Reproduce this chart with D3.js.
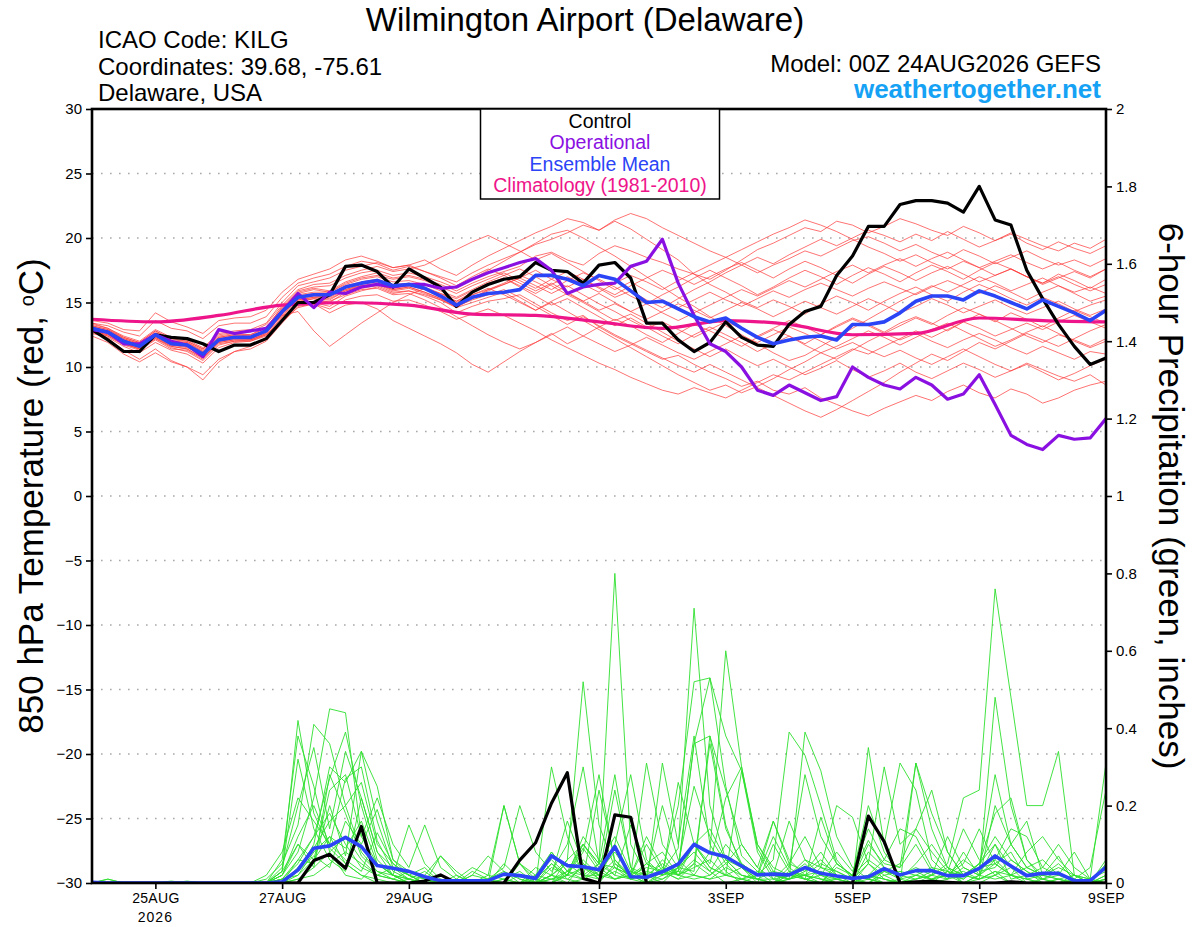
<!DOCTYPE html>
<html>
<head>
<meta charset="utf-8">
<script src="https://cdn.jsdelivr.net/npm/d3@7"></script>
<style>
	body { margin: 0; background: #fff; }
	svg { display: block; font-family: 'Liberation Sans', Arial, Helvetica, sans-serif; }
</style>
</head>
<body>
<svg id="chart" width="1200" height="927"></svg>
<script>

// model run: GEFS 00Z 24AUG2026, 6-hourly steps out to 384h
var runStart = '2026-08-24T00';
var runEnd = '2026-09-09T00';
var stepHours = 6;

var dateTicks = ['2026-08-25T00', '2026-08-27T00', '2026-08-29T00', '2026-09-01T00', '2026-09-03T00', '2026-09-05T00', '2026-09-07T00', '2026-09-09T00'];
var dateTickLabels = ['25AUG', '27AUG', '29AUG', '1SEP', '3SEP', '5SEP', '7SEP', '9SEP'];
var yearLabel = '2026';

var tempTicks = [30, 25, 20, 15, 10, 5, 0, -5, -10, -15, -20, -25, -30];
var precipTicks = [2, 1.8, 1.6, 1.4, 1.2, 1, 0.8, 0.6, 0.4, 0.2, 0];
var precipTickLabels = ['2', '1.8', '1.6', '1.4', '1.2', '1', '0.8', '0.6', '0.4', '0.2', '0'];

// 850 hPa temperature (C)
var controlTemp = [
	12.9,12.1,11.2,11.2,12.5,12.3,12.2,11.8,11.2,11.7,11.7,12.2,13.6,
	15.0,15.0,15.6,17.8,17.9,17.4,16.2,17.6,16.9,16.2,14.7,15.8,16.4,
	16.8,17.0,18.1,17.5,17.4,16.5,17.9,18.1,16.9,13.4,13.4,12.1,11.2,
	11.9,13.5,12.3,11.7,11.6,13.3,14.3,14.7,17.1,18.6,20.9,20.9,22.6,
	22.9,22.9,22.7,22.0,24.0,21.4,21.0,17.5,15.3,13.3,11.6,10.2,10.7
];
var operationalTemp = [
	12.9,12.7,11.8,11.8,12.5,12.0,11.7,10.8,12.9,12.6,12.8,13.0,14.3,
	15.7,14.6,15.8,15.7,16.2,16.4,16.2,16.4,16.4,16.1,16.2,16.8,17.3,
	17.7,18.1,18.4,17.5,15.7,16.2,16.4,16.5,17.8,18.2,19.9,16.5,14.0,
	11.8,11.2,10.0,8.2,7.8,8.6,8.0,7.4,7.7,10.0,9.2,8.6,8.3,
	9.2,8.6,7.5,7.9,9.4,7.1,4.7,4.0,3.6,4.7,4.4,4.5,6.0
];
var meanTemp = [
	13.0,12.7,12.0,11.6,12.5,11.8,11.7,11.0,12.1,12.3,12.3,12.8,14.3,
	15.4,15.6,15.6,16.2,16.5,16.7,16.3,16.4,16.1,15.5,14.8,15.4,15.7,
	15.8,16.0,17.1,17.1,16.8,16.3,17.1,16.8,15.9,15.0,15.1,14.5,13.9,
	13.5,13.8,13.0,12.3,11.8,12.1,12.3,12.4,12.1,13.3,13.3,13.5,14.2,
	15.1,15.5,15.5,15.2,15.9,15.5,15.0,14.5,15.2,14.7,14.2,13.6,14.4
];
// daily climatology (1981-2010), one value per day
var climatologyTemp = [13.7, 13.5, 14.0, 14.8, 15.0, 14.8, 14.1, 14.0, 13.5, 13.0, 13.6, 13.3, 12.5, 12.6, 13.8, 13.6, 13.5];

var memberTemps = [
	[13.2,12.9,12.3,11.9,12.8,12.1,12.0,11.4,12.4,12.6,12.5,13.1,14.6,
	 15.8,16.1,15.9,16.6,17.0,17.3,16.9,17.1,16.8,16.4,15.9,16.5,17.0,
	 17.4,17.8,18.6,18.9,18.3,17.9,18.8,19.4,19.0,18.5,18.1,17.6,17.2,
	 16.8,17.5,18.3,19.1,19.6,20.2,20.8,20.5,21.3,21.0,20.4,20.9,21.5,
	 21.1,20.6,20.2,20.9,20.4,19.8,20.3,19.6,19.1,19.7,19.2,18.8,19.4],
	[12.6,12.3,11.6,11.1,11.9,11.3,11.0,10.3,11.5,11.9,12.0,12.4,13.9,
	 15.0,15.3,15.0,15.8,16.1,16.3,15.8,15.9,15.5,15.0,14.2,14.7,15.1,
	 15.3,15.6,14.9,14.2,13.6,14.0,13.1,12.4,11.8,11.2,10.6,10.9,10.2,
	 9.6,9.1,8.5,8.9,8.2,7.9,8.4,7.6,7.1,6.6,6.2,6.8,7.3,
	 7.8,7.4,8.1,8.6,8.0,7.6,8.3,7.9,7.2,7.6,8.2,8.6,8.9],
	[13.4,13.0,12.4,12.0,12.9,12.3,12.1,11.5,12.6,12.8,12.9,13.4,15.0,
	 16.3,16.6,16.9,17.5,17.8,18.1,17.7,17.9,18.3,17.6,17.1,17.9,18.6,
	 19.2,19.8,20.4,20.9,21.5,21.2,20.6,21.3,20.7,19.9,19.1,18.3,17.2,
	 16.4,15.8,15.1,14.6,15.2,14.7,14.1,14.9,15.5,15.0,14.4,15.1,15.7,
	 16.2,15.6,15.1,15.8,16.4,15.9,15.3,14.8,15.4,14.9,14.3,14.8,15.2],
	[12.9,12.6,11.8,11.4,12.2,11.5,11.2,10.5,11.7,12.0,12.1,12.5,13.6,
	 14.6,14.9,14.2,14.8,15.0,14.5,13.6,13.0,12.4,11.8,11.1,10.2,9.6,
	 10.4,11.2,11.9,12.6,11.8,12.4,13.1,13.7,13.2,12.5,11.9,12.6,13.3,
	 12.8,12.2,11.6,12.3,12.9,12.4,11.8,12.5,13.2,13.8,13.3,12.7,13.4,
	 13.9,13.4,12.8,13.5,14.1,13.6,13.0,12.4,11.9,12.5,12.1,11.6,12.2],
	[12.7,12.2,11.3,10.6,11.4,10.5,10.0,9.0,10.4,11.2,11.6,12.1,13.5,
	 14.8,15.0,14.7,15.5,15.9,16.2,15.7,15.9,15.6,15.2,14.6,15.3,16.0,
	 16.5,17.1,16.6,16.0,16.7,17.3,16.8,16.2,15.5,14.9,15.6,16.2,16.9,
	 17.5,16.9,16.3,15.6,16.2,16.9,17.5,17.0,16.4,17.1,17.7,17.2,16.6,
	 17.3,17.9,17.4,16.8,17.5,18.1,17.6,17.0,16.5,17.2,16.7,16.1,16.8],
	[13.1,12.8,12.1,11.7,12.6,11.9,11.8,11.2,12.3,12.5,12.4,12.9,14.0,
	 14.3,12.8,11.6,12.5,13.4,14.2,15.0,15.6,16.1,15.7,15.3,15.9,16.5,
	 16.9,16.2,15.5,14.8,15.3,14.6,13.9,13.2,13.8,13.1,12.4,11.8,12.5,
	 13.1,12.5,11.9,11.2,11.8,12.4,11.7,11.1,11.6,12.2,12.8,12.3,11.7,
	 12.3,12.9,13.4,12.8,12.2,11.6,12.1,12.7,13.2,12.6,12.0,11.5,12.0],
	[13.4,13.2,12.7,12.4,13.6,13.0,12.8,12.2,13.2,13.4,13.4,13.9,15.4,
	 16.5,16.9,17.2,17.8,18.2,18.0,17.5,17.8,17.4,17.0,16.6,17.3,17.9,
	 18.4,18.9,19.5,19.9,20.4,21.0,20.6,21.4,21.9,21.5,20.8,20.2,19.6,
	 19.0,18.5,17.9,17.3,17.9,18.4,19.0,18.6,19.2,19.8,20.1,19.6,19.0,
	 19.5,18.9,18.4,19.1,18.6,18.0,18.5,19.0,18.4,17.9,18.3,17.8,18.4],
	[12.8,12.5,11.9,11.5,12.3,11.7,11.5,10.9,12.0,12.2,12.2,12.7,14.2,
	 15.2,15.4,15.5,16.0,16.3,16.5,16.0,16.2,15.8,15.3,14.6,15.0,15.4,
	 15.8,15.1,14.4,15.0,14.3,13.6,12.9,12.2,11.5,10.8,10.1,9.4,8.8,
	 8.2,8.6,8.0,8.5,9.1,9.8,10.4,11.1,10.6,11.3,12.0,12.6,13.2,
	 13.8,13.3,14.0,14.6,14.1,13.5,14.2,13.7,13.1,13.8,14.4,13.9,13.4],
	[13.0,12.7,12.0,11.6,12.5,11.8,11.6,11.1,12.1,12.3,12.3,12.8,14.4,
	 15.5,15.7,15.6,16.3,16.6,16.8,16.4,16.5,16.2,15.7,15.1,15.6,16.0,
	 16.4,16.9,17.5,16.8,16.2,16.8,16.1,15.4,15.9,15.2,14.6,15.3,16.0,
	 16.6,17.3,17.9,18.5,18.0,18.7,19.3,19.9,19.4,20.0,20.6,20.2,19.7,
	 20.3,19.8,20.5,19.9,19.3,19.8,20.4,19.9,19.4,19.0,19.6,19.2,19.9],
	[13.1,12.7,12.1,11.7,12.6,11.9,11.8,11.0,12.2,12.4,12.3,12.9,14.3,
	 15.6,15.8,15.8,16.4,16.8,17.0,16.6,16.7,16.4,15.9,15.4,16.0,16.6,
	 17.1,17.6,17.0,16.3,15.6,15.0,14.3,13.6,14.1,13.4,12.7,12.0,11.4,
	 10.8,11.4,10.7,10.1,10.6,10.0,9.4,9.9,10.5,9.8,9.2,9.7,10.3,
	 9.6,9.1,9.7,10.3,9.8,9.2,9.7,10.2,9.6,9.0,9.5,10.1,10.6],
	[12.9,12.6,11.9,11.5,12.4,11.7,11.6,10.8,12.0,12.2,12.2,12.7,14.1,
	 15.3,15.5,15.4,16.0,16.4,16.6,16.1,16.3,16.0,15.5,15.0,15.6,16.1,
	 15.6,15.0,14.4,15.1,15.7,15.1,14.4,14.9,14.3,13.7,14.3,14.9,14.4,
	 13.8,14.4,15.0,14.5,13.9,14.5,15.1,14.6,14.1,14.7,15.3,14.8,14.2,
	 14.7,15.3,14.8,14.2,14.7,15.2,14.6,14.1,14.6,15.1,14.5,14.0,14.5],
	[13.2,12.9,12.2,11.8,12.7,12.0,11.9,11.3,12.3,12.5,12.5,13.0,14.7,
	 15.9,16.2,16.3,16.9,17.3,17.5,17.1,17.3,17.0,16.6,16.1,16.8,17.5,
	 18.2,18.9,19.6,20.3,20.6,20.0,19.3,18.6,17.8,17.0,16.2,15.4,14.7,
	 13.9,13.2,12.5,11.8,11.1,10.5,10.9,11.6,12.3,13.0,13.7,14.4,15.1,
	 15.7,16.3,15.8,16.4,17.0,16.5,15.9,16.4,16.9,16.3,15.8,16.2,15.7],
	[12.7,12.4,11.7,11.3,12.1,11.4,11.3,10.6,11.8,12.0,12.0,12.5,13.8,
	 14.9,15.1,15.1,15.6,16.0,16.1,15.6,15.7,15.2,14.6,13.9,13.2,12.5,
	 11.9,11.4,11.9,12.5,13.1,12.4,11.8,11.2,11.7,12.3,11.7,11.1,10.6,
	 11.2,11.8,12.4,11.9,12.5,13.1,12.6,12.0,11.4,11.9,11.3,10.8,11.3,
	 10.7,10.2,10.8,11.4,10.8,10.2,9.7,10.3,9.8,9.3,8.9,9.4,8.6],
	[13.0,12.8,12.2,11.8,12.6,12.0,11.9,11.2,12.2,12.4,12.4,12.9,14.5,
	 15.7,16.0,15.8,16.5,16.9,17.1,16.8,17.0,16.7,16.2,15.7,16.3,16.8,
	 17.3,16.7,16.1,16.8,17.4,16.8,16.2,15.6,16.3,16.9,17.5,17.0,16.4,
	 17.0,17.6,18.1,17.5,16.9,17.6,18.2,17.7,17.1,16.5,17.2,17.8,17.3,
	 16.7,17.3,17.8,17.2,16.6,17.1,17.6,17.0,16.4,16.9,17.4,16.9,17.6],
	[12.8,12.4,11.8,11.4,12.2,11.6,11.4,10.7,11.9,12.1,12.1,12.6,14.0,
	 15.1,15.3,15.2,15.9,16.2,16.4,15.9,16.1,15.7,15.2,14.7,15.2,15.6,
	 16.0,15.4,14.7,14.0,13.3,13.9,13.2,12.5,11.9,11.3,10.7,10.1,9.6,
	 10.2,9.6,9.0,8.4,7.8,7.2,6.6,6.1,6.7,7.4,8.1,8.8,9.6,
	 10.3,11.0,10.5,11.2,11.9,11.4,12.0,12.6,12.1,11.6,12.2,12.8,13.3],
	[13.6,13.4,12.9,12.8,14.2,13.5,13.1,12.6,13.6,13.8,13.9,14.4,15.8,
	 16.8,17.2,17.6,18.3,18.6,18.2,17.7,17.9,17.4,16.9,16.3,17.0,17.6,
	 17.1,16.5,15.9,16.5,15.8,15.1,15.7,15.0,14.3,14.9,14.2,13.6,14.2,
	 14.8,15.4,16.0,15.5,16.1,16.7,16.2,16.8,17.4,17.9,17.3,17.9,18.4,
	 17.8,18.4,18.9,18.3,17.7,18.2,18.7,18.1,17.6,18.1,17.5,17.0,17.6],
	[12.8,12.5,11.8,11.4,12.3,11.6,11.4,10.7,11.9,12.1,12.1,12.6,14.1,
	 15.2,15.4,15.3,15.9,16.3,16.4,16.0,16.2,15.8,15.3,14.8,15.4,15.9,
	 16.4,16.9,16.3,15.7,16.3,15.6,14.9,14.3,13.6,13.0,13.5,12.9,12.3,
	 12.9,13.5,13.0,12.4,13.0,13.6,13.1,12.5,13.1,13.7,13.2,12.6,12.1,
	 12.6,12.0,11.5,12.1,12.6,12.1,11.5,11.0,11.6,11.1,10.6,11.2,11.0],
	[13.1,12.8,12.1,11.7,12.5,11.9,11.7,11.0,12.1,12.3,12.3,12.8,14.3,
	 15.4,15.6,15.6,16.2,16.5,16.7,16.3,16.4,16.1,15.6,15.1,15.8,16.4,
	 16.9,16.3,15.7,16.4,17.0,16.4,15.8,16.5,17.1,16.6,16.0,16.7,17.3,
	 17.9,18.5,19.1,19.7,20.3,20.8,21.4,21.0,20.5,19.9,19.3,18.8,18.2,
	 18.7,18.1,17.6,18.2,17.7,17.1,17.6,17.0,16.5,17.0,16.4,15.9,16.4],
	[12.4,11.9,11.0,10.4,11.1,10.4,10.0,9.4,10.6,11.2,11.4,12.0,13.4,
	 14.7,14.9,14.5,15.2,15.5,15.6,15.1,15.2,14.8,14.3,13.7,14.1,14.5,
	 14.0,13.4,12.8,12.1,11.5,10.9,10.3,9.8,9.2,8.7,8.2,7.9,8.4,
	 8.0,7.6,8.2,8.8,9.4,9.0,9.6,10.2,10.8,11.4,11.0,11.6,12.2,
	 12.8,12.3,12.9,13.5,13.0,12.4,12.9,13.4,12.9,13.5,14.0,13.5,13.0],
	[13.3,13.0,12.3,11.9,12.8,12.2,12.0,11.4,12.5,12.7,12.7,13.3,14.8,
	 16.0,16.4,16.5,17.1,17.5,17.8,17.4,17.6,17.9,18.5,19.1,19.7,20.2,
	 19.6,19.0,18.3,18.8,18.1,17.4,16.7,16.0,16.6,15.9,15.2,14.6,15.2,
	 15.8,15.2,14.7,15.3,15.9,15.4,16.0,16.5,16.0,15.5,16.1,16.6,16.1,
	 15.6,16.2,16.7,16.2,15.7,16.3,15.8,15.2,15.8,16.3,15.7,15.1,15.5]
];

// 6-hour precipitation (inches)
var controlPrecip = [
	0,0,0,0,0,0,0,0,0,0,0,0,0,
	0,0.058,0.074,0.038,0.146,0,0,0,0.005,0.021,0,0,0,
	0,0.059,0.104,0.206,0.285,0.012,0,0.176,0.17,0,0,0,0,
	0,0,0,0,0,0,0,0,0,0,0.173,0.107,0,
	0.003,0.004,0.002,0,0,0,0.003,0,0,0,0,0,0
];
var meanPrecip = [
	0.002,0,0,0,0,0,0,0,0,0,0,0,0.003,
	0.034,0.09,0.096,0.118,0.094,0.045,0.038,0.03,0.016,0.006,0.006,0.006,0.006,
	0.023,0.019,0.012,0.07,0.045,0.042,0.034,0.094,0.016,0.015,0.029,0.049,0.1,
	0.078,0.068,0.044,0.021,0.023,0.021,0.04,0.025,0.018,0.012,0.016,0.037,0.021,
	0.032,0.032,0.019,0.019,0.038,0.07,0.044,0.019,0.025,0.025,0.006,0.006,0.041
];
var memberPrecip = [
	[0,0.01,0,0,0,0,0,0,0,0,0,0,0.03,
	 0.42,0.18,0.09,0.05,0.02,0,0,0.01,0.03,0,0,0,0,
	 0,0,0,0.3,0.12,0.02,0.05,0.8,0.1,0.02,0,0.04,0.08,
	 0.03,0,0.01,0,0,0.02,0.05,0.01,0,0,0.02,0,0,
	 0,0.01,0.03,0,0.02,0.1,0.04,0,0,0.01,0,0,0.02],
	[0,0,0,0,0,0,0,0,0,0,0,0.01,0.05,
	 0.15,0.41,0.36,0.2,0.08,0.03,0.01,0,0,0,0.02,0,0,
	 0.01,0.03,0,0,0.06,0.52,0.15,0.04,0.01,0,0.03,0.09,0.71,
	 0.2,0.06,0.02,0.01,0,0.03,0.02,0,0.01,0,0.05,0.02,0,
	 0,0,0.01,0.04,0.02,0.48,0.2,0.06,0.01,0,0,0,0.05],
	[0,0,0,0,0,0,0,0,0,0,0,0,0.02,
	 0.08,0.22,0.45,0.44,0.12,0.05,0.02,0,0,0.01,0,0,0,
	 0,0,0.01,0.05,0.02,0.08,0.28,0.05,0.02,0.31,0.1,0.04,0.36,
	 0.53,0.25,0.07,0.03,0,0.01,0.39,0.29,0.12,0.04,0.01,0,0,
	 0.02,0.01,0,0,0,0.02,0,0,0.01,0,0,0,0],
	[0,0,0,0,0,0.005,0,0,0,0,0,0,0.01,
	 0.05,0.12,0.27,0.39,0.2,0.06,0.02,0.15,0.05,0.01,0,0,0,
	 0.2,0.05,0,0.02,0,0.05,0.02,0.24,0.04,0,0.01,0.03,0.02,
	 0.08,0.6,0.3,0.09,0.02,0.16,0.06,0.02,0,0,0.01,0,0,
	 0.31,0.14,0.04,0,0.02,0.05,0.08,0.01,0,0,0.02,0,0],
	[0,0,0,0,0,0,0,0,0,0,0,0,0.04,
	 0.2,0.35,0.14,0.34,0.22,0.08,0.04,0.01,0,0,0,0.02,0.07,
	 0.03,0,0,0.08,0.03,0.1,0.05,0.02,0.15,0.05,0.02,0.26,0.1,
	 0.04,0.02,0.29,0.08,0.01,0,0,0.04,0.2,0.17,0.05,0.01,0,
	 0,0.02,0.05,0.22,0.24,0.76,0.48,0.2,0.2,0.34,0.02,0,0.02],
	[0,0,0,0,0,0,0,0,0,0,0,0,0,
	 0.03,0.1,0.3,0.26,0.34,0.25,0.06,0.02,0,0,0,0,0.02,
	 0.2,0.05,0.01,0,0.02,0.04,0.01,0.1,0.02,0,0.31,0.1,0.38,
	 0.1,0.03,0,0.02,0.16,0.06,0.02,0.01,0,0,0.35,0.1,0.31,
	 0.24,0.06,0.02,0,0.01,0.03,0,0,0,0,0,0,0],
	[0,0,0,0,0,0,0,0,0,0,0,0.02,0.08,
	 0.22,0.16,0.1,0.27,0.3,0.11,0.03,0.01,0,0,0,0,0,
	 0,0.02,0,0.05,0.01,0,0,0.05,0.02,0.04,0.03,0.02,0.05,
	 0.36,0.14,0.05,0.02,0.06,0.39,0.33,0.2,0.06,0.01,0,0.03,0.05,
	 0.14,0.08,0.03,0.02,0.05,0.12,0.06,0.03,0,0.01,0,0.01,0.31],
	[0,0,0,0,0,0,0,0,0,0,0,0,0.01,
	 0.02,0.06,0.24,0.28,0.12,0.22,0.1,0.04,0.15,0.04,0.01,0,0,
	 0.01,0,0.04,0.02,0.06,0.1,0.04,0.01,0.02,0.05,0.03,0.01,0.02,
	 0.01,0.02,0.04,0,0.1,0.03,0.01,0.17,0.05,0.02,0.11,0.04,0.02,
	 0.03,0.01,0.02,0.05,0.14,0.05,0.02,0.01,0,0,0.01,0.04,0.24],
	[0,0,0,0,0,0,0,0,0,0,0,0,0.03,
	 0.32,0.14,0.06,0.03,0.22,0.08,0.02,0,0,0.07,0.02,0,0,
	 0,0,0.02,0.08,0.03,0.01,0.24,0.06,0.02,0,0.02,0.05,0.25,
	 0.12,0.05,0.01,0,0,0.02,0.06,0.04,0.02,0,0.08,0.04,0.01,
	 0.05,0.1,0.04,0.02,0.01,0.2,0.1,0.04,0.02,0.01,0,0,0],
	[0,0,0,0,0,0,0.005,0,0,0,0,0,0,
	 0.04,0.09,0.16,0.2,0.26,0.1,0.05,0.02,0.01,0,0,0.02,0.01,
	 0.04,0.2,0.08,0.03,0.1,0.3,0.05,0.12,0.03,0.01,0.06,0.02,0.1,
	 0.05,0.22,0.3,0.1,0.04,0.02,0.01,0,0.05,0.02,0.06,0.03,0.01,
	 0,0,0.03,0.01,0.05,0.18,0.22,0.06,0.02,0.07,0,0,0.01],
	[0,0,0,0,0,0,0,0,0,0,0,0,0.02,
	 0.12,0.2,0.1,0.06,0.03,0.13,0.05,0.02,0,0,0,0,0,
	 0,0,0,0.01,0,0.01,0.03,0.08,0.02,0.01,0.03,0.2,0.52,
	 0.53,0.38,0.29,0.1,0.03,0.01,0.02,0.03,0.01,0,0.02,0.01,0,
	 0.01,0.03,0.02,0.01,0.04,0.06,0.02,0,0,0,0,0,0],
	[0,0,0,0,0,0,0,0,0,0,0,0,0.01,
	 0.06,0.05,0.2,0.07,0.34,0.16,0.04,0.02,0.04,0,0,0,0,
	 0,0,0,0.02,0.01,0.04,0.02,0.06,0.01,0.03,0.02,0.04,0.03,
	 0.38,0.24,0.1,0.04,0.16,0.05,0.03,0.08,0.02,0.01,0.05,0.3,0.1,
	 0.14,0.24,0.08,0.02,0.05,0.1,0.01,0.02,0.04,0.1,0.04,0.01,0],
	[0,0,0,0,0,0,0,0,0,0,0,0,0,
	 0.01,0.04,0.08,0.12,0.06,0.02,0.01,0.03,0.01,0,0,0,0,
	 0,0,0,0.02,0.16,0.05,0.01,0.03,0.01,0.05,0.08,0.02,0.01,
	 0.02,0.05,0.1,0.04,0.01,0.02,0.02,0.05,0.03,0.01,0.02,0.06,0.14,
	 0.12,0.04,0.01,0.08,0.02,0.06,0.14,0.12,0.04,0.02,0.01,0,0.01],
	[0,0,0,0,0,0,0,0,0,0,0,0,0.06,
	 0.38,0.25,0.08,0.02,0.01,0.05,0.02,0,0,0,0,0.03,0.01,
	 0,0,0.02,0.06,0.02,0.01,0.05,0.28,0.04,0.02,0.01,0.04,0.1,
	 0.04,0.02,0.01,0.02,0.12,0.04,0.01,0,0.04,0.02,0.2,0.08,0.02,
	 0.04,0.02,0.01,0.02,0.04,0.05,0.02,0.08,0.12,0.06,0.02,0.01,0.04],
	[0,0.01,0,0,0,0,0,0,0,0,0,0,0,
	 0.02,0.08,0.12,0.09,0.16,0.05,0.02,0.01,0,0,0,0,0,
	 0.05,0.01,0,0.01,0.02,0.09,0.03,0.01,0.02,0.12,0.04,0.02,0.06,
	 0.03,0.1,0.05,0.02,0.02,0.01,0.03,0.06,0.02,0.01,0.1,0.05,0.04,
	 0.1,0.03,0.02,0.06,0.03,0.04,0.1,0.16,0.02,0.05,0.01,0,0.06],
	[0,0,0,0,0,0,0,0,0,0,0,0,0.01,
	 0.03,0.07,0.04,0.16,0.1,0.19,0.06,0.03,0.01,0,0.01,0.04,0.02,
	 0.01,0,0,0,0.02,0.12,0.06,0.02,0.01,0.02,0.2,0.06,0.02,
	 0.01,0.04,0.02,0.01,0.01,0.05,0.12,0.04,0.03,0.01,0,0.02,0.03,
	 0.02,0.04,0.03,0.14,0.06,0.02,0.04,0.02,0.01,0.03,0,0,0.01],
	[0,0,0,0,0,0,0,0,0,0,0,0,0,
	 0.06,0.12,0.18,0.1,0.04,0.02,0.04,0.02,0,0,0,0,0,
	 0,0,0,0.02,0.05,0.02,0.02,0.1,0.28,0.06,0.02,0.03,0.36,
	 0.38,0.15,0.04,0.01,0,0.01,0.02,0.01,0.01,0,0.02,0.01,0,
	 0.01,0.02,0.12,0.04,0.02,0.01,0.02,0.04,0.06,0.02,0.01,0,0],
	[0,0,0,0,0,0,0,0,0,0,0,0,0.03,
	 0.1,0.04,0.28,0.18,0.07,0.03,0.02,0.01,0,0,0,0,0.01,
	 0.03,0.01,0,0,0.03,0.02,0.01,0.04,0.02,0.1,0.03,0.01,0.05,
	 0.02,0.06,0.04,0.01,0.03,0.02,0.01,0.02,0.08,0.03,0.14,0.06,0.04,
	 0.31,0.18,0.08,0.02,0.04,0.28,0.1,0.04,0.02,0.01,0.02,0,0],
	[0,0,0,0,0,0,0,0,0,0,0,0,0,
	 0.01,0.02,0.05,0.08,0.05,0.02,0.01,0,0.02,0.07,0.03,0,0,
	 0,0.05,0.02,0.01,0.03,0.06,0.02,0.01,0.03,0.02,0.05,0.02,0.04,
	 0.06,0.02,0.01,0.03,0.02,0.01,0.04,0.02,0.01,0.02,0.01,0.03,0.02,
	 0.01,0.02,0.04,0.02,0.01,0.03,0.02,0.01,0.02,0.04,0.02,0.01,0.03],
	[0,0,0,0,0,0,0,0,0,0,0,0,0.02,
	 0.1,0.06,0.12,0.05,0.02,0.01,0,0,0,0,0,0,0,
	 0,0,0,0.04,0.02,0.1,0.05,0.04,0.02,0.01,0.04,0.03,0.1,
	 0.14,0.06,0.02,0.01,0,0.04,0.28,0.12,0.05,0.02,0.01,0,0.01,
	 0.02,0.01,0.02,0.03,0.01,0.02,0.06,0.03,0.01,0.02,0.08,0.01,0]
];

var legendItems = ['Control', 'Operational', 'Ensemble Mean', 'Climatology (1981-2010)'];

var colors = {
	member: '#ff3a3a',
	precip: '#2ee02e',
	control: '#000000',
	operational: '#8a10e2',
	mean: '#2a44f6',
	climatology: '#ee1489',
	site: '#15a2f4'
};

var padding = {t: 109, r: 94, b: 44, l: 92};
var width = 1200, height = 927;
var plotW = width - padding.l - padding.r;
var plotH = height - padding.t - padding.b;

var parseTime = d3.utcParse('%Y-%m-%dT%H');
var t0 = parseTime(runStart);

function stepTime(i, hours) {
	return new Date(t0.getTime() + i * hours * 3600 * 1000);
}

var svg = d3.select('#chart');

svg.append('rect').attr('width', width).attr('height', height).attr('fill', '#fff');

var xScale = d3.scaleUtc().domain([t0, parseTime(runEnd)]).range([padding.l, padding.l + plotW]);
var tempScale = d3.scaleLinear().domain([-30, 30]).range([padding.t + plotH, padding.t]);
var precipScale = d3.scaleLinear().domain([0, 2]).range([padding.t + plotH, padding.t]);

svg.append('clipPath').attr('id', 'plot-clip')
	.append('rect')
	.attr('x', padding.l).attr('y', padding.t)
	.attr('width', plotW).attr('height', plotH);

// dotted grid on the temperature ticks
svg.append('g').attr('class', 'grid')
	.selectAll('line')
	.data(tempTicks.filter(function(d) { return d > -30 && d < 30; }))
	.enter()
	.append('line')
	.attr('x1', padding.l).attr('x2', padding.l + plotW)
	.attr('y1', function(d) { return tempScale(d); })
	.attr('y2', function(d) { return tempScale(d); })
	.attr('stroke', '#a8a8a8')
	.attr('stroke-width', 1.6)
	.attr('stroke-dasharray', '1.6,7.4');

var plot = svg.append('g').attr('clip-path', 'url(#plot-clip)');

var tempLine = d3.line()
	.x(function(d, i) { return xScale(stepTime(i, stepHours)); })
	.y(function(d) { return tempScale(d); });

var precipLine = d3.line()
	.x(function(d, i) { return xScale(stepTime(i, stepHours)); })
	.y(function(d) { return precipScale(d); });

var climLine = d3.line()
	.x(function(d, i) { return xScale(stepTime(i, 24)); })
	.y(function(d) { return tempScale(d); })
	.curve(d3.curveMonotoneX);

// precipitation members
plot.append('g').selectAll('path')
	.data(memberPrecip)
	.enter()
	.append('path')
	.attr('d', precipLine)
	.attr('fill', 'none')
	.attr('stroke', colors.precip)
	.attr('stroke-width', 0.9)
	.attr('stroke-linejoin', 'round');

plot.append('path').attr('d', precipLine(controlPrecip))
	.attr('fill', 'none').attr('stroke', colors.control).attr('stroke-width', 3.2).attr('stroke-linejoin', 'round');

plot.append('path').attr('d', precipLine(meanPrecip))
	.attr('fill', 'none').attr('stroke', colors.mean).attr('stroke-width', 3.6).attr('stroke-linejoin', 'round');

// temperature members
plot.append('g').selectAll('path')
	.data(memberTemps)
	.enter()
	.append('path')
	.attr('d', tempLine)
	.attr('fill', 'none')
	.attr('stroke', colors.member)
	.attr('stroke-opacity', 0.8)
	.attr('stroke-width', 0.9)
	.attr('stroke-linejoin', 'round');

plot.append('path').attr('d', climLine(climatologyTemp))
	.attr('fill', 'none').attr('stroke', colors.climatology).attr('stroke-width', 3.2);

plot.append('path').attr('d', tempLine(controlTemp))
	.attr('fill', 'none').attr('stroke', colors.control).attr('stroke-width', 3.2).attr('stroke-linejoin', 'round');

plot.append('path').attr('d', tempLine(operationalTemp))
	.attr('fill', 'none').attr('stroke', colors.operational).attr('stroke-width', 3.2).attr('stroke-linejoin', 'round');

plot.append('path').attr('d', tempLine(meanTemp))
	.attr('fill', 'none').attr('stroke', colors.mean).attr('stroke-width', 3.6).attr('stroke-linejoin', 'round');

// axes
var leftAxis = svg.append('g')
	.attr('transform', 'translate(' + padding.l + ',0)')
	.call(d3.axisLeft(tempScale).tickValues(tempTicks).tickSize(6).tickPadding(4));

var rightAxis = svg.append('g')
	.attr('transform', 'translate(' + (padding.l + plotW) + ',0)')
	.call(d3.axisRight(precipScale).tickValues(precipTicks).tickSize(6).tickPadding(4)
		.tickFormat(function(d, i) { return precipTickLabels[i]; }));

var bottomAxis = svg.append('g')
	.attr('transform', 'translate(0,' + (padding.t + plotH) + ')')
	.call(d3.axisBottom(xScale).tickValues(dateTicks.map(parseTime)).tickSize(6).tickPadding(6)
		.tickFormat(function(d, i) { return dateTickLabels[i]; }));

[leftAxis, rightAxis, bottomAxis].forEach(function(g) {
	g.select('.domain').remove();
	g.selectAll('.tick line').attr('stroke', '#000').attr('stroke-width', 1.6);
	g.selectAll('.tick text').attr('fill', '#000')
		.style('font-family', "'Liberation Sans', Arial, sans-serif")
		.style('font-size', '15px');
});

bottomAxis.selectAll('.tick text').attr('dy', '0.6em').style('font-size', '14px').style('letter-spacing', '0.3px');

svg.append('text')
	.attr('x', xScale(parseTime(dateTicks[0])))
	.attr('y', padding.t + plotH + 39)
	.attr('text-anchor', 'middle')
	.style('font-size', '14px')
	.style('letter-spacing', '1px')
	.text(yearLabel);

// frame
svg.append('rect')
	.attr('x', padding.l).attr('y', padding.t)
	.attr('width', plotW).attr('height', plotH)
	.attr('fill', 'none').attr('stroke', '#000').attr('stroke-width', 2.6);

// legend
var legend = svg.append('g').attr('class', 'legend');
legend.append('rect')
	.attr('x', 480.5).attr('y', padding.t)
	.attr('width', 239).attr('height', 90)
	.attr('fill', '#fff').attr('stroke', '#000').attr('stroke-width', 1.5);

var legendColors = [colors.control, colors.operational, colors.mean, colors.climatology];
legend.selectAll('text')
	.data(legendItems)
	.enter()
	.append('text')
	.attr('x', 600)
	.attr('y', function(d, i) { return 127.5 + i * 21.5; })
	.attr('text-anchor', 'middle')
	.attr('fill', function(d, i) { return legendColors[i]; })
	.style('font-size', '19.5px')
	.text(function(d) { return d; });

// titles
svg.append('text').attr('x', 585).attr('y', 31).attr('text-anchor', 'middle')
	.style('font-size', '33px').text('Wilmington Airport (Delaware)');

var info = ['ICAO Code: KILG', 'Coordinates: 39.68, -75.61', 'Delaware, USA'];
svg.append('g').selectAll('text')
	.data(info)
	.enter()
	.append('text')
	.attr('x', 98)
	.attr('y', function(d, i) { return 48 + i * 26.5; })
	.style('font-size', '24px')
	.text(function(d) { return d; });

svg.append('text').attr('x', 1101).attr('y', 72).attr('text-anchor', 'end')
	.style('font-size', '24px').text('Model: 00Z 24AUG2026 GEFS');

svg.append('text').attr('x', 1101).attr('y', 98).attr('text-anchor', 'end')
	.attr('fill', colors.site).style('font-size', '26px').style('font-weight', 'bold')
	.text('weathertogether.net');

// axis titles
var leftTitle = svg.append('text')
	.attr('transform', 'translate(31,' + (padding.t + plotH / 2) + ') rotate(-90)')
	.attr('text-anchor', 'middle')
	.attr('dy', '0.35em')
	.style('font-size', '35px');
leftTitle.append('tspan').text('850 hPa Temperature (red, ');
leftTitle.append('tspan').attr('baseline-shift', '45%').style('font-size', '20px').text('o');
leftTitle.append('tspan').text('C)');

svg.append('text')
	.attr('transform', 'translate(1171,' + (padding.t + plotH / 2) + ') rotate(90)')
	.attr('text-anchor', 'middle')
	.attr('dy', '0.35em')
	.style('font-size', '35px')
	.text('6-hour Precipitation (green, inches)');

</script>
</body>
</html>
